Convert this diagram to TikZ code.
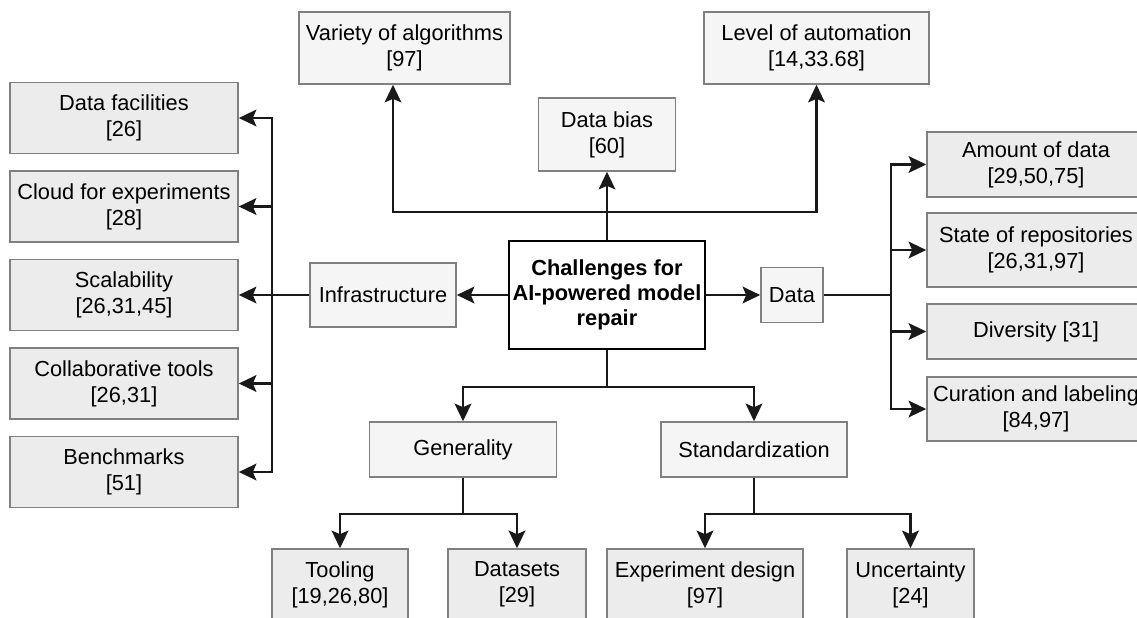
\documentclass[tikz,border=0pt]{standalone}
\usepackage{fontspec}
\setmainfont{Liberation Sans}
\usepackage{xcolor}
\usepackage{tikz}
\usetikzlibrary{positioning, arrows.meta}

\definecolor{leafgray}{RGB}{235,236,235}
\definecolor{catgray}{RGB}{245,245,245}
\definecolor{edgegray}{RGB}{128,128,128}

\begin{document}
\begin{tikzpicture}[on grid, font=\fontsize{12.4}{14.7}\selectfont,
        box/.style={draw=edgegray, line width=0.9pt, align=center, inner sep=1pt},
        leaf/.style={box, fill=leafgray, minimum width=4.56cm, minimum height=1.42cm},
        cat/.style={box, fill=catgray},
        main/.style={draw=black, line width=1.2pt, fill=white, align=center, inner sep=1pt,
            minimum width=3.92cm, minimum height=2.16cm, font=\fontsize{12.4}{14.2}\selectfont\bfseries},
        arr/.style={-{Stealth[length=10pt, width=9.5pt, inset=2pt]}, line width=1.15pt, black!90}]
        \useasboundingbox (-12.14,-6.44) rectangle (10.60,5.90);

        \node[main] (ch) at (0,0) {Challenges for\\AI-powered model\\repair};

        \node[cat, minimum width=2.92cm, minimum height=1.28cm] (infra) [left=4.48cm of ch] {Infrastructure};
        \node[cat, minimum width=1.24cm, minimum height=1.1cm] (data) [right=3.7cm of ch] {Data};
        \node[cat, minimum width=2.74cm, minimum height=1.46cm] (bias) [above=3.21cm of ch] {Data bias\\{[60]}};
        \node[cat, minimum width=4.22cm, minimum height=1.44cm] (variety) [above left=4.94cm and 4.05cm of ch] {Variety of algorithms\\{[97]}};
        \node[cat, minimum width=4.5cm, minimum height=1.44cm] (level) [above right=4.94cm and 4.19cm of ch] {Level of automation\\{[14,33.68]}};
        \node[cat, minimum width=3.74cm, minimum height=1.1cm] (gen) [below left=3.09cm and 2.88cm of ch] {Generality};
        \node[cat, minimum width=3.72cm, minimum height=1.1cm] (std) [below right=3.09cm and 2.94cm of ch] {Standardization};

        % infrastructure
        \node[leaf] (scal) [left=5.18cm of infra] {Scalability\\{[26,31,45]}};
        \node[leaf] (cloud) [above=1.77cm of scal] {Cloud for experiments\\{[28]}};
        \node[leaf] (fac) [above=1.77cm of cloud] {Data facilities\\{[26]}};
        \node[leaf] (collab) [below=1.77cm of scal] {Collaborative tools\\{[26,31]}};
        \node[leaf] (bench) [below=1.77cm of collab] {Benchmarks\\{[51]}};

        % data
        \node[leaf, minimum width=4.36cm, minimum height=1.3cm] (amount) [above right=2.61cm and 4.88cm of data] {Amount of data\\{[29,50,75]}};
        \node[leaf, minimum width=4.36cm, minimum height=1.48cm] (repo) [below=1.71cm of amount] {State of repositories\\{[26,31,97]}};
        \node[leaf, minimum width=4.36cm, minimum height=1.1cm] (div) [below=1.63cm of repo] {Diversity [31]};
        \node[leaf, minimum width=4.36cm, minimum height=1.28cm] (cur) [below=1.55cm of div] {Curation and labeling\\{[84,97]}};

        % generality / standardization
        \node[leaf, minimum width=2.72cm] (tool) [below left=2.7cm and 2.46cm of gen] {Tooling\\{[19,26,80]}};
        \node[leaf, minimum width=2.76cm] (sets) [below right=2.7cm and 1.08cm of gen] {Datasets\\{[29]}};
        \node[leaf, minimum width=3.92cm] (exp) [below left=2.7cm and 0.98cm of std] {Experiment design\\{[97]}};
        \node[leaf, minimum width=2.54cm] (unc) [below right=2.7cm and 3.13cm of std] {Uncertainty\\{[24]}};

        \draw[arr] (ch.west) -- (infra.east);
        \draw[arr] (ch.east) -- (data.west);
        \draw[arr] (ch.north) -- (bias.south);
        \draw[arr] (ch.north) -- ++(0,0.56) -| ([xshift=-0.23cm]variety.south);
        \draw[arr] (ch.north) -- ++(0,0.56) -| (level.south);
        \draw[arr] (ch.south) -- ++(0,-0.74) -| (gen.north);
        \draw[arr] (ch.south) -- ++(0,-0.74) -| (std.north);

        \foreach \n in {fac,cloud,scal,collab,bench}
            \draw[arr] (infra.west) -- ++(-0.74,0) |- (\n.east);
        \foreach \n in {amount,repo,div,cur}
            \draw[arr] (data.east) -- ++(1.34,0) |- (\n.west);
        \foreach \n in {tool,sets}
            \draw[arr] (gen.south) -- ++(0,-0.72) -| (\n.north);
        \foreach \n in {exp,unc}
            \draw[arr] (std.south) -- ++(0,-0.72) -| (\n.north);

    \end{tikzpicture}
\end{document}
